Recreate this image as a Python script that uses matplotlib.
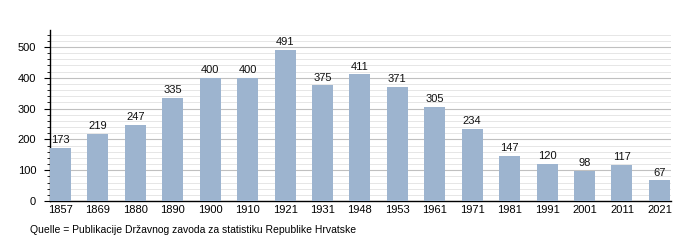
import matplotlib
matplotlib.use("Agg")
import matplotlib.pyplot as plt
from matplotlib.ticker import MultipleLocator

years = ["1857", "1869", "1880", "1890", "1900", "1910", "1921", "1931", "1948",
         "1953", "1961", "1971", "1981", "1991", "2001", "2011", "2021"]
population = [173, 219, 247, 335, 400, 400, 491, 375, 411, 371, 305, 234, 147, 120, 98, 117, 67]
source = "Quelle = Publikacije Državnog zavoda za statistiku Republike Hrvatske"

plt.rcParams['font.family'] = ['Liberation Sans', 'DejaVu Sans']
fig = plt.figure(figsize=(7, 2.5), dpi=100)
ax = fig.add_axes([50 / 700, 1 - 201 / 250, 621 / 700, 171 / 250])
x = list(range(len(years)))
ax.bar(x, population, width=0.56, color="#9db4cf", zorder=3)
for xi, v in zip(x, population):
    ax.text(xi, v + 9, str(v), ha="center", va="bottom", fontsize=8, color="#111111", zorder=4)
ax.set_xlim(-0.28, len(years) - 1 + 0.31)
ax.set_ylim(0, 555)
ax.set_xticks(x)
ax.set_xticklabels(years, fontsize=8)
ax.yaxis.set_major_locator(MultipleLocator(100))
ax.yaxis.set_minor_locator(MultipleLocator(20))
ax.tick_params(axis="y", labelsize=8, length=4, width=0.8, pad=6)
ax.tick_params(axis="y", which="minor", length=2, width=0.6)
ax.tick_params(axis="x", length=0, pad=3)
ax.grid(axis="y", which="major", color="#c0c0c0", linewidth=0.8, zorder=0)
ax.grid(axis="y", which="minor", color="#e2e2e2", linewidth=0.6, zorder=0)
for s in ["top", "right"]:
    ax.spines[s].set_visible(False)
ax.spines["left"].set_linewidth(1)
ax.spines["bottom"].set_linewidth(1)
fig.text(30 / 700, 1 - 230 / 250, source, fontsize=7.5, va="center", ha="left")
fig.savefig("out.png", dpi=100)
